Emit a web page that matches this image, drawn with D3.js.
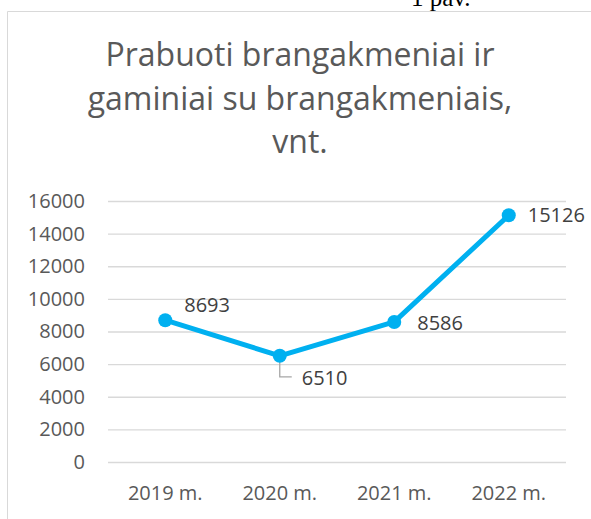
<!DOCTYPE html>
<html>
<head>
<meta charset="utf-8">
<script src="https://cdn.jsdelivr.net/npm/d3@7"></script>
<style>
	body { margin: 0; background: #fff; }
	svg { display: block; }
</style>
</head>
<body>
<svg id="chart"></svg>
<script>
const years = ["2019 m.", "2020 m.", "2021 m.", "2022 m."];
const counts = [8693, 6510, 8586, 15126];
const yTicks = [0, 2000, 4000, 6000, 8000, 10000, 12000, 14000, 16000];
const titleLines = ["Prabuoti brangakmeniai ir", "gaminiai su brangakmeniais,", "vnt."];

const WIDTH = 591,
	HEIGHT = 519,
	MARGINS = { top: 201, right: 25, bottom: 57, left: 108 },
	FONT = "'Open Sans', sans-serif",
	GREY = "#595959",
	BLUE = "#00b0f0";

let svg = d3.select("#chart")
	.attr("width", WIDTH)
	.attr("height", HEIGHT);

// chart frame (only left and top edges are in view)
svg.append("path")
	.attr("d", "M7.5," + HEIGHT + "V11.5H" + WIDTH)
	.attr("fill", "none")
	.attr("stroke", "#d9d9d9")
	.attr("stroke-width", 1);

// caption from the page above, cut by the crop
svg.append("text")
	.attr("x", 411)
	.attr("y", 6)
	.attr("font-family", "'Liberation Serif', serif")
	.attr("font-size", 25)
	.attr("fill", "#000")
	.text("1 pav.");

svg.append("g")
	.selectAll("text")
	.data(titleLines)
	.join("text")
	.attr("x", 300)
	.attr("y", (d, i) => 66 + i * 43.5)
	.attr("text-anchor", "middle")
	.attr("font-family", FONT)
	.attr("font-size", 32)
	.attr("fill", GREY)
	.text(d => d);

let xScale = d3.scaleBand()
	.domain(years)
	.range([MARGINS.left, WIDTH - MARGINS.right]);

let yScale = d3.scaleLinear()
	.domain([0, 16000])
	.range([HEIGHT - MARGINS.bottom, MARGINS.top]);

let cx = d => xScale(d) + xScale.bandwidth() / 2;

// gridlines + y labels
let yAxis = d3.axisLeft(yScale)
	.tickValues(yTicks)
	.tickFormat(d3.format("d"))
	.tickSize(-(WIDTH - MARGINS.left - MARGINS.right))
	.tickPadding(23);

let gy = svg.append("g")
	.attr("transform", "translate(" + MARGINS.left + ",0)")
	.call(yAxis);
gy.select(".domain").remove();
gy.selectAll(".tick line")
	.attr("stroke", "#d9d9d9")
	.attr("stroke-width", 1.3);
gy.selectAll(".tick text")
	.attr("font-family", FONT)
	.attr("font-size", 20)
	.attr("fill", GREY);

let xAxis = d3.axisBottom(xScale)
	.tickSize(0)
	.tickPadding(24);

let gx = svg.append("g")
	.attr("transform", "translate(0," + (HEIGHT - MARGINS.bottom) + ")")
	.call(xAxis);
gx.select(".domain").remove();
gx.selectAll(".tick text")
	.attr("font-family", FONT)
	.attr("font-size", 20)
	.attr("fill", GREY);

let points = years.map((y, i) => ({ year: y, value: counts[i] }));

let lineGen = d3.line()
	.x(d => cx(d.year))
	.y(d => yScale(d.value));

// leader line for the 2020 label
let p2020 = points[1];
svg.append("path")
	.attr("d", "M" + cx(p2020.year) + "," + yScale(p2020.value) +
		"V" + (yScale(p2020.value) + 21) + "H" + (cx(p2020.year) + 12))
	.attr("fill", "none")
	.attr("stroke", "#a6a6a6")
	.attr("stroke-width", 1.3);

svg.append("path")
	.attr("d", lineGen(points))
	.attr("fill", "none")
	.attr("stroke", BLUE)
	.attr("stroke-width", 5)
	.attr("stroke-linejoin", "round");

svg.append("g")
	.selectAll("circle")
	.data(points)
	.join("circle")
	.attr("cx", d => cx(d.year))
	.attr("cy", d => yScale(d.value))
	.attr("r", 7)
	.attr("fill", BLUE);

// data labels: offsets as placed in the original
const labelDx = [19, 22, 23, 19];
const labelDy = [-8, 29, 8, 7];

svg.append("g")
	.selectAll("text")
	.data(points)
	.join("text")
	.attr("x", (d, i) => cx(d.year) + labelDx[i])
	.attr("y", (d, i) => yScale(d.value) + labelDy[i])
	.attr("font-family", FONT)
	.attr("font-size", 20)
	.attr("fill", "#404040")
	.text(d => d.value);
</script>
</body>
</html>
